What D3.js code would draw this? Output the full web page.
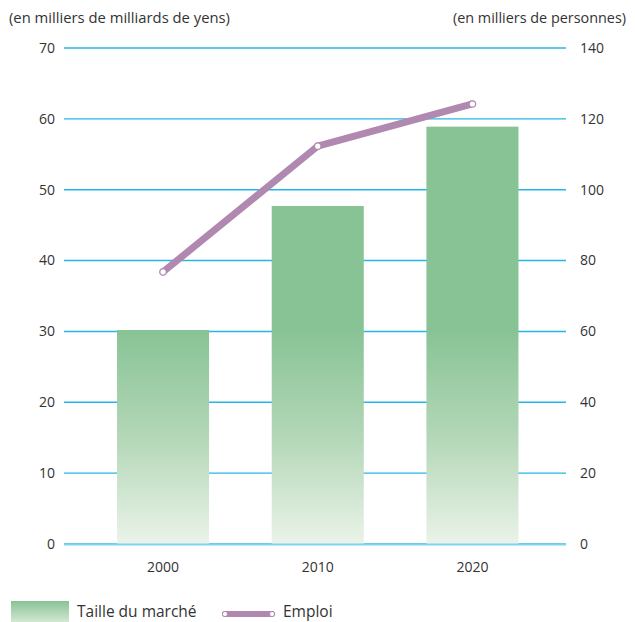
<!DOCTYPE html>
<html>
<head>
<meta charset="utf-8">
<script src="https://cdn.jsdelivr.net/npm/d3@7"></script>
<style>
  html, body { margin: 0; padding: 0; background: #fff; }
  svg { display: block; font-family: "Open Sans", "Noto Sans", sans-serif; }
</style>
</head>
<body>
<svg id="chart" width="635" height="622"></svg>
<script>
// Market size (thousand billion yen) and employment (thousand people)
const years = ["2000", "2010", "2020"];
const marketSize = [30.2, 47.7, 58.9];
const employment = [76.8, 112.3, 124.2];
const leftTicks = [0, 10, 20, 30, 40, 50, 60, 70];
const rightTicks = [0, 20, 40, 60, 80, 100, 120, 140];
const leftTitle = "(en milliers de milliards de yens)";
const rightTitle = "(en milliers de personnes)";
const legendLabels = ["Taille du marché", "Emploi"];

const svg = d3.select("#chart");
const plotLeft = 64, plotRight = 566, plotTop = 48, plotBottom = 544;

const x = d3.scaleBand().domain(years).range([85.7, 549.8])
  .paddingInner(0.405).paddingOuter(0.2025);
const yL = d3.scaleLinear().domain([0, 70]).range([plotBottom, plotTop]);
const yR = d3.scaleLinear().domain([0, 140]).range([plotBottom, plotTop]);

// vertical fade for the bars
const defs = svg.append("defs");
const grad = defs.append("linearGradient").attr("id", "barFade")
  .attr("gradientUnits", "userSpaceOnUse")
  .attr("x1", 0).attr("x2", 0).attr("y1", 330).attr("y2", plotBottom);
grad.append("stop").attr("offset", 0).attr("stop-color", "#88c395");
grad.append("stop").attr("offset", 0.5).attr("stop-color", "#b3d7b7");
grad.append("stop").attr("offset", 1).attr("stop-color", "#eaf3e9");
const legGrad = defs.append("linearGradient").attr("id", "legFade")
  .attr("x1", 0).attr("x2", 0).attr("y1", 0).attr("y2", 1);
legGrad.append("stop").attr("offset", 0).attr("stop-color", "#88c395");
legGrad.append("stop").attr("offset", 1).attr("stop-color", "#d2e8d3");

// grid lines
svg.append("g").selectAll("line").data(leftTicks).join("line")
  .attr("x1", plotLeft).attr("x2", plotRight)
  .attr("y1", d => yL(d)).attr("y2", d => yL(d))
  .attr("stroke", "#27b4e6").attr("stroke-width", 1.4);

// left axis labels
svg.append("g").selectAll("text").data(leftTicks).join("text")
  .attr("x", 55).attr("y", d => yL(d)).attr("dy", "0.35em")
  .attr("text-anchor", "end").attr("font-size", 14).attr("fill", "#333")
  .text(d => d);

// right axis labels
svg.append("g").selectAll("text").data(rightTicks).join("text")
  .attr("x", 580).attr("y", d => yR(d)).attr("dy", "0.35em")
  .attr("text-anchor", "start").attr("font-size", 14).attr("fill", "#333")
  .text(d => d);

// axis titles
svg.append("text").attr("x", 9).attr("y", 23).attr("font-size", 14.8)
  .attr("fill", "#333").text(leftTitle);
svg.append("text").attr("x", 626).attr("y", 23).attr("font-size", 14.4)
  .attr("text-anchor", "end").attr("fill", "#333").text(rightTitle);

// bars
svg.append("g").selectAll("rect").data(years).join("rect")
  .attr("x", d => x(d)).attr("width", x.bandwidth())
  .attr("y", (d, i) => yL(marketSize[i]))
  .attr("height", (d, i) => plotBottom - yL(marketSize[i]))
  .attr("fill", "url(#barFade)");

// baseline redrawn over the bars
svg.append("line").attr("x1", plotLeft).attr("x2", plotRight)
  .attr("y1", plotBottom + 0.5).attr("y2", plotBottom + 0.5)
  .attr("stroke", "#7fd2f0").attr("stroke-width", 2);

// x labels
svg.append("g").selectAll("text").data(years).join("text")
  .attr("x", d => x(d) + x.bandwidth() / 2).attr("y", 572)
  .attr("text-anchor", "middle").attr("font-size", 14).attr("fill", "#333")
  .text(d => d);

// employment line
const pts = years.map((d, i) => [x(d) + x.bandwidth() / 2, yR(employment[i])]);
svg.append("path").attr("d", d3.line()(pts))
  .attr("fill", "none").attr("stroke", "#b088b0").attr("stroke-width", 7)
  .attr("stroke-linejoin", "round").attr("stroke-linecap", "round");
svg.append("g").selectAll("circle").data(pts).join("circle")
  .attr("cx", d => d[0]).attr("cy", d => d[1]).attr("r", 3.2)
  .attr("fill", "#fff").attr("stroke", "#b088b0").attr("stroke-width", 1.2);

// legend
svg.append("rect").attr("x", 11).attr("y", 601).attr("width", 58).attr("height", 21)
  .attr("fill", "url(#legFade)");
svg.append("text").attr("x", 77).attr("y", 617).attr("font-size", 15.5)
  .attr("fill", "#333").text(legendLabels[0]);
svg.append("line").attr("x1", 225).attr("x2", 272).attr("y1", 614).attr("y2", 614)
  .attr("stroke", "#b088b0").attr("stroke-width", 6).attr("stroke-linecap", "round");
svg.selectAll(".legDot").data([225, 272]).join("circle").attr("class", "legDot")
  .attr("cx", d => d).attr("cy", 614).attr("r", 2.6)
  .attr("fill", "#fff").attr("stroke", "#b088b0").attr("stroke-width", 1);
svg.append("text").attr("x", 283).attr("y", 617).attr("font-size", 15.5)
  .attr("fill", "#333").text(legendLabels[1]);
</script>
</body>
</html>
